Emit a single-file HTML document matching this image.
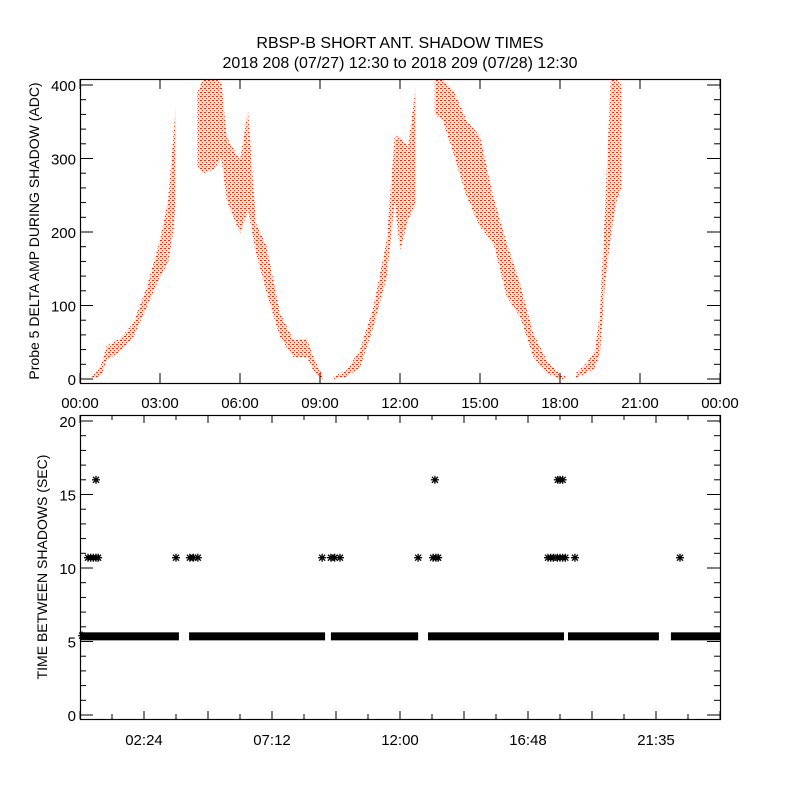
<!DOCTYPE html>
<html><head><meta charset="utf-8"><style>
body{margin:0;background:#fff}
svg{display:block;font-family:"Liberation Sans",sans-serif}
</style></head><body>
<svg id="c" width="800" height="800" viewBox="0 0 800 800">
<defs>
<pattern id="dots" width="4" height="4" patternUnits="userSpaceOnUse">
<rect x="0" y="0" width="2" height="1" fill="#ff2a00"/>
<rect x="2" y="2" width="1" height="1" fill="#ff2a00"/>
</pattern>
</defs>
<text x="400" y="48" text-anchor="middle" font-size="16">RBSP-B SHORT ANT. SHADOW TIMES</text>
<text x="400" y="68" text-anchor="middle" font-size="16">2018 208 (07/27) 12:30 to 2018 209 (07/28) 12:30</text>
<g id="topPanel"></g>
<g id="botPanel"></g>
</svg>
<script>
// ---- top panel data (envelope of scatter, hours / ADC) ----
const ampHours = [0.45,0.8,1.0,1.5,2.0,2.5,3.0,3.3,3.5,3.6,null,4.4,4.6,5.0,5.3,5.5,6.0,6.3,6.6,7.0,7.5,8.0,8.5,8.8,9.1,null,9.5,10.0,10.5,11.0,11.5,11.8,12.0,12.3,12.6,null,13.3,13.6,14.0,14.5,15.0,15.5,16.0,16.5,17.0,17.5,18.0,18.2,null,18.6,19.0,19.3,19.5,19.7,19.9,20.1,20.3];
const ampLo = [0,5,25,38,57,98,139,158,200,250,null,290,280,285,300,243,198,230,171,117,57,30,30,8,0,null,0,3,16,71,139,240,175,216,240,null,360,352,307,248,207,185,112,85,30,8,0,0,null,2,8,15,35,135,193,240,260];
const ampHi = [3,20,45,55,76,125,189,243,330,375,null,390,407,408,405,329,298,366,212,180,90,53,55,26,5,null,3,12,40,98,189,330,330,316,400,null,408,408,393,352,330,248,185,130,62,26,6,4,null,8,22,38,90,240,408,408,400];
// ---- bottom panel data ----
const bandStart = [0,4.09,9.41,13.05,18.3,22.16];
const bandEnd = [3.71,9.19,12.68,18.15,21.71,24];
const bandValue = 5.35;
const starHours = [0.08,0.3,0.4,0.5,0.6,0.68,3.6,4.12,4.25,4.42,9.08,9.41,9.55,9.75,12.68,13.24,13.35,13.43,17.55,17.65,17.75,17.9,18.0,18.1,18.2,18.56,22.5,0.6,13.31,17.92,18.0,18.1];
const starValues = [5.4,10.7,10.7,10.7,10.7,10.7,10.7,10.7,10.7,10.7,10.7,10.7,10.7,10.7,10.7,10.7,10.7,10.7,10.7,10.7,10.7,10.7,10.7,10.7,10.7,10.7,10.7,16,16,16,16,16];
const topXTicks = ["00:00","03:00","06:00","09:00","12:00","15:00","18:00","21:00","00:00"];
const topYTicks = [0,100,200,300,400];
const botXTicks = ["02:24","07:12","12:00","16:48","21:35"];
const botYTicks = [0,5,10,15,20];

const NS="http://www.w3.org/2000/svg";
function mk(tag,attrs,parent){const e=document.createElementNS(NS,tag);for(const k in attrs)e.setAttribute(k,attrs[k]);parent.appendChild(e);return e;}
const L=80,R=720;
const xs=h=>L+h*(R-L)/24;
const T1=79,B1=383; const y1=v=>379-v*0.735;
const T2=415,B2=719; const y2=v=>715-v*14.7;
const topG=document.getElementById('topPanel'), botG=document.getElementById('botPanel');

let segs=[],cur=[];
for(let i=0;i<ampHours.length;i++){if(ampHours[i]===null){segs.push(cur);cur=[];}else cur.push(i);}
segs.push(cur);
segs.forEach((s,si)=>{
  let d='M'+s.map(i=>xs(ampHours[i])+','+y1(ampHi[i])).join('L');
  d+='L'+s.slice().reverse().map(i=>xs(ampHours[i])+','+y1(ampLo[i])).join('L')+'Z';
  const p=mk('path',{d:d,fill:'url(#dots)'},topG);
  
  
  const p2=mk('path',{d:d,fill:'#ff2a00','fill-opacity':'0.12'},topG);
  
  
});
const f1=mk('rect',{x:L+.5,y:T1+.5,width:R-L,height:B1-T1,fill:'none',stroke:'#000','stroke-width':1.2},topG);


for(let v=0;v<=400;v+=20){const y=y1(v),len=v%100===0?13:6;
  mk('line',{x1:L,x2:L+len,y1:y,y2:y,stroke:'#000'},topG);
  mk('line',{x1:R-len,x2:R,y1:y,y2:y,stroke:'#000'},topG);}
topYTicks.forEach(v=>{const t=mk('text',{x:L-4,y:y1(v)+6,'text-anchor':'end','font-size':15},topG);t.textContent=v;
  
  });
topXTicks.forEach((s,i)=>{const x=xs(i*3);
  mk('line',{x1:x,x2:x,y1:B1,y2:B1-10,stroke:'#000'},topG);
  mk('line',{x1:x,x2:x,y1:T1,y2:T1+10,stroke:'#000'},topG);
  const t=mk('text',{x:x,y:408,'text-anchor':'middle','font-size':15},topG);t.textContent=s;
  
  });
const ty=mk('text',{x:0,y:0,'text-anchor':'middle','font-size':14,transform:'translate(39,231) rotate(-90)'},topG);
ty.textContent='Probe 5 DELTA AMP DURING SHADOW (ADC)';



bandStart.forEach((s,i)=>{
  const r=mk('rect',{x:xs(s),y:y2(bandValue)-4,width:xs(bandEnd[i])-xs(s),height:8,fill:'#000'},botG);
  
  
});
function star(cx,cy){const g=mk('g',{stroke:'#000','stroke-width':1.3},botG);
  
  
  mk('line',{x1:cx-4,x2:cx+4,y1:cy,y2:cy},g);mk('line',{x1:cx,x2:cx,y1:cy-4,y2:cy+4},g);
  mk('line',{x1:cx-3,x2:cx+3,y1:cy-3,y2:cy+3},g);mk('line',{x1:cx-3,x2:cx+3,y1:cy+3,y2:cy-3},g);}
starHours.forEach((h,i)=>star(xs(h),y2(starValues[i])));
const f2=mk('rect',{x:L+.5,y:T2+.5,width:R-L,height:B2-T2,fill:'none',stroke:'#000','stroke-width':1.2},botG);


for(let v=0;v<=20;v+=1){const y=y2(v),len=v%5===0?13:6;
  mk('line',{x1:L,x2:L+len,y1:y,y2:y,stroke:'#000'},botG);
  mk('line',{x1:R-len,x2:R,y1:y,y2:y,stroke:'#000'},botG);}
botYTicks.forEach(v=>{const t=mk('text',{x:L-4,y:y2(v)+6,'text-anchor':'end','font-size':15},botG);t.textContent=v;
  
  });
for(let k=0;k<=20;k++){const x=xs(k*1.2),len=k%2===0?8:5;
  mk('line',{x1:x,x2:x,y1:B2,y2:B2-len,stroke:'#000'},botG);
  mk('line',{x1:x,x2:x,y1:T2,y2:T2+len,stroke:'#000'},botG);}
botXTicks.forEach((s,i)=>{const t=mk('text',{x:xs(2.4+i*4.8),y:745,'text-anchor':'middle','font-size':15},botG);t.textContent=s;
  
  });
const by=mk('text',{x:0,y:0,'text-anchor':'middle','font-size':14,transform:'translate(47,567) rotate(-90)'},botG);
by.textContent='TIME BETWEEN SHADOWS (SEC)';


</script>
</body></html>
